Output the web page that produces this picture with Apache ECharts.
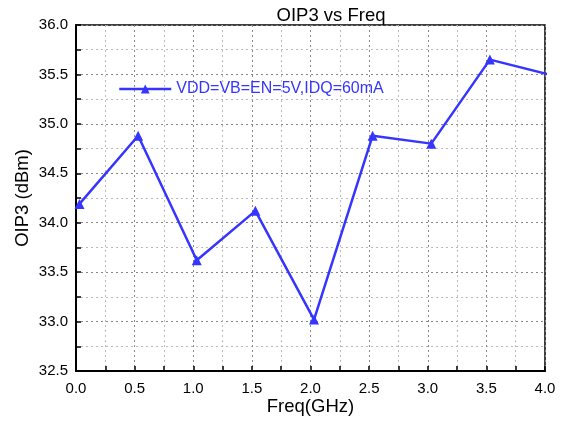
<!DOCTYPE html>
<html><head><meta charset="utf-8">
<script src="https://cdn.jsdelivr.net/npm/echarts@6/dist/echarts.min.js"></script>
<style>html,body{margin:0;padding:0;background:#fff}#c{width:564px;height:421px}</style>
</head><body><div id="c"></div>
<script>
const freq = [0.03, 0.53, 1.03, 1.53, 2.03, 2.53, 3.03, 3.53, 4.03];
const oip3 = [34.19, 34.88, 33.62, 34.12, 33.02, 34.88, 34.80, 35.65, 35.50];
const seriesName = 'VDD=VB=EN=5V,IDQ=60mA';
const FONT = 'Liberation Sans, Arial, sans-serif';
const blue = '#3535FF';
const chart = echarts.init(document.getElementById('c'), null, {renderer:'canvas'});
chart.setOption({
  animation: false,
  backgroundColor: '#fff',
  title: {text: 'OIP3 vs Freq', left: 326, textAlign: 'center', top: 1,
    textStyle: {fontFamily: FONT, fontSize: 18.5, fontWeight: 'normal', color: '#000'}},
  legend: {left: 118, top: 81, padding: 0, itemWidth: 52, itemHeight: 11, itemGap: 3,
    textStyle: {fontFamily: FONT, fontSize: 16, color: blue},
    data: [{name: seriesName, itemStyle: {color: blue}, lineStyle: {width: 2.5, color: blue}}]},
  grid: {left: 76, right: 19, top: 25, bottom: 50, outerBoundsMode: 'none', containLabel: false,
    show: true, borderColor: '#000', borderWidth: 1.5},
  xAxis: {type: 'value', min: 0, max: 4, interval: 0.5,
    name: 'Freq(GHz)', nameLocation: 'middle', nameGap: 26, nameMoveOverlap: false,
    nameTextStyle: {fontFamily: FONT, fontSize: 18.5, color: '#000'},
    axisLine: {onZero: false, lineStyle: {color: '#000', width: 2}},
    axisTick: {inside: true, length: 5, lineStyle: {color: '#000', width: 1.5}},
    minorTick: {show: true, splitNumber: 2, length: 5, lineStyle: {color: '#000', width: 1.5}},
    axisLabel: {fontFamily: FONT, fontSize: 15, color: '#000', margin: 10, formatter: v => v.toFixed(1)},
    splitLine: {show: true, lineStyle: {color: '#888', type: [2,3], width: 1}},
    minorSplitLine: {show: true, lineStyle: {color: '#bbb', type: [2,3], width: 1}}},
  yAxis: {type: 'value', min: 32.5, max: 36.0, interval: 0.5,
    name: 'OIP3 (dBm)', nameLocation: 'middle', nameGap: 44, nameMoveOverlap: false,
    nameTextStyle: {fontFamily: FONT, fontSize: 18.5, color: '#000'},
    axisLine: {show: true, onZero: false, lineStyle: {color: '#000', width: 2}},
    axisTick: {show: true, inside: true, length: 5, lineStyle: {color: '#000', width: 1.5}},
    minorTick: {show: true, splitNumber: 2, length: 5, lineStyle: {color: '#000', width: 1.5}},
    axisLabel: {fontFamily: FONT, fontSize: 15, color: '#000', margin: 8, formatter: v => v.toFixed(1)},
    splitLine: {show: true, lineStyle: {color: '#888', type: [2,3], width: 1}},
    minorSplitLine: {show: true, lineStyle: {color: '#bbb', type: [2,3], width: 1}}},
  series: [{name: seriesName, type: 'line', clip: true,
    data: freq.map((f, i) => [f, oip3[i]]),
    symbol: 'triangle', symbolSize: 10, showAllSymbol: true,
    lineStyle: {color: blue, width: 2.5}, itemStyle: {color: blue}}]
});
</script></body></html>
